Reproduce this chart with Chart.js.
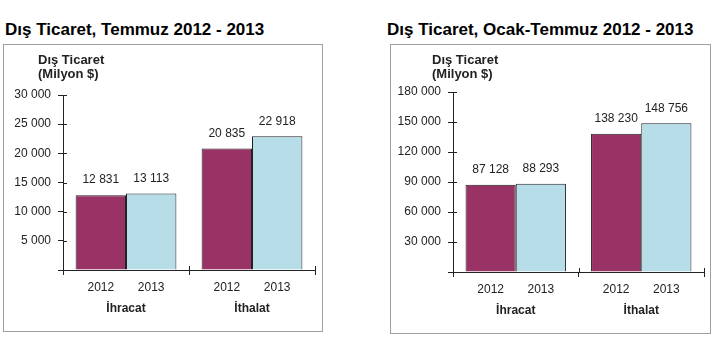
<!DOCTYPE html>
<html>
<head>
<meta charset="utf-8">
<script src="https://cdn.jsdelivr.net/npm/chart.js@4"></script>
<style>
    body { margin: 0; background: #fff; font-family: "Liberation Sans", Arial, sans-serif; }
    .title { position: absolute; font-size: 17px; font-weight: bold; color: #000; white-space: nowrap; }
    .box { position: absolute; border: 1px solid #a0a0a0; background: #fff; }
    .box canvas { display: block; }
</style>
</head>
<body>
<div class="title" style="left:5px; top:20px;">Dış Ticaret, Temmuz 2012 - 2013</div>
<div class="title" style="left:387px; top:20px;">Dış Ticaret, Ocak-Temmuz 2012 - 2013</div>
<div class="box" style="left:3px; top:44px; width:318px; height:286px;"><canvas id="chartJuly"></canvas></div>
<div class="box" style="left:390px; top:44px; width:319px; height:288px;"><canvas id="chartJanJuly"></canvas></div>
<script>
const groups = ["İhracat", "İthalat"];
const years = ["2012", "2013"];
const july2012 = [12831, 20835];
const july2013 = [13113, 22918];
const janJuly2012 = [87128, 138230];
const janJuly2013 = [88293, 148756];
const julyTicks = [0, 5000, 10000, 15000, 20000, 25000, 30000];
const janJulyTicks = [0, 30000, 60000, 90000, 120000, 150000, 180000];
const axisTitle = ["Dış Ticaret", "(Milyon $)"];

const fontFamily = "'Liberation Sans', Arial, sans-serif";
const colors = ["#993366", "#b7dde8"];

const fmt = (n) => n.toString().replace(/\B(?=(\d{3})+(?!\d))/g, " ");

// value labels above bars, year labels below bars, axis caption top-left
const extrasPlugin = {
    id: "extras",
    afterDatasetsDraw(chart, args, opts) {
        const ctx = chart.ctx;
        const area = chart.chartArea;
        ctx.save();
        ctx.fillStyle = "#222";
        ctx.textAlign = "center";
        ctx.textBaseline = "middle";
        ctx.font = "12px " + fontFamily;
        chart.data.datasets.forEach((ds, i) => {
            chart.getDatasetMeta(i).data.forEach((bar, j) => {
                ctx.fillText(fmt(ds.data[j]), bar.x, bar.y - 15);
                ctx.fillText(ds.label, bar.x, area.bottom + 18);
            });
        });
        ctx.font = "bold 13px " + fontFamily;
        ctx.textAlign = "left";
        ctx.fillText(opts.caption[0], area.left - opts.captionOffset, 15);
        ctx.fillText(opts.caption[1], area.left - opts.captionOffset, 29);

        // tick marks also poke a little into the plot, like the original
        ctx.strokeStyle = "#222";
        ctx.lineWidth = 1;
        ctx.beginPath();
        chart.scales.y.ticks.forEach(t => {
            const py = Math.round(chart.scales.y.getPixelForValue(t.value)) + 0.5;
            ctx.moveTo(area.left, py);
            ctx.lineTo(area.left + 4, py);
        });
        const xs = chart.scales.x;
        const mid = (xs.getPixelForValue(0) + xs.getPixelForValue(1)) / 2;
        [mid, area.right].forEach(px => {
            const x = Math.round(px) + 0.5;
            ctx.moveTo(x, area.bottom);
            ctx.lineTo(x, area.bottom - 4);
        });
        ctx.stroke();
        ctx.restore();
    }
};

const makeChart = (id, v2012, v2013, ticks, layout) => {
    const canvas = document.getElementById(id);
    canvas.width = layout.w;
    canvas.height = layout.h;
    return new Chart(canvas, {
        type: "bar",
        data: {
            labels: groups,
            datasets: [
                { label: years[0], data: v2012, backgroundColor: colors[0], borderColor: "#222", borderWidth: 1 },
                { label: years[1], data: v2013, backgroundColor: colors[1], borderColor: "#222", borderWidth: 1 }
            ]
        },
        options: {
            responsive: false,
            animation: false,
            devicePixelRatio: 1,
            categoryPercentage: 0.8,
            barPercentage: 1.0,
            layout: { padding: { top: layout.top, right: layout.right, left: 0, bottom: 0 } },
            plugins: {
                legend: { display: false },
                tooltip: { enabled: false },
                title: { display: false },
                extras: { caption: axisTitle, captionOffset: layout.captionOffset }
            },
            scales: {
                x: {
                    grid: { display: true, drawOnChartArea: false, offset: true, color: "#222", tickLength: 5 },
                    border: { display: true, color: "#222", width: 1 },
                    ticks: { color: "#222", padding: 26, font: { family: fontFamily, size: 12, weight: "bold" } },
                    afterFit: (s) => { s.height = layout.xh; }
                },
                y: {
                    min: ticks[0],
                    max: ticks[ticks.length - 1],
                    afterBuildTicks: (s) => { s.ticks = ticks.map(v => ({ value: v })); },
                    grid: { display: true, drawOnChartArea: false, color: "#222", tickLength: 5 },
                    border: { display: true, color: "#222", width: 1 },
                    ticks: {
                        color: "#222",
                        padding: 7,
                        font: { family: fontFamily, size: 12 },
                        callback: (v) => v === 0 ? "" : fmt(v)
                    },
                    afterFit: (s) => { s.width = layout.yw; }
                }
            }
        },
        plugins: [extrasPlugin]
    });
};

makeChart("chartJuly", july2012, july2013, julyTicks,
    { w: 318, h: 286, top: 50, right: 7, xh: 61, yw: 59, captionOffset: 25 });
makeChart("chartJanJuly", janJuly2012, janJuly2013, janJulyTicks,
    { w: 319, h: 288, top: 47, right: 6, xh: 61, yw: 62, captionOffset: 21 });
</script>
</body>
</html>
